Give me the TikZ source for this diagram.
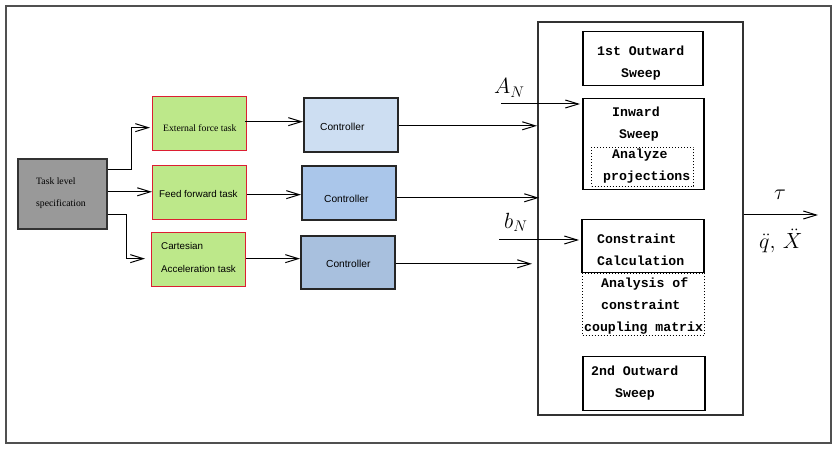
\RequirePackage{fix-cm}
\documentclass[tikz,border=0pt]{standalone}
\usepackage{fontspec}
\setmainfont{Liberation Serif}
\setsansfont{Liberation Sans}
\setmonofont{Liberation Mono}
\usetikzlibrary{arrows.meta}
\definecolor{frame}{RGB}{80,80,80}
\definecolor{specgray}{RGB}{153,153,153}
\definecolor{taskgreen}{RGB}{189,232,138}
\definecolor{taskred}{RGB}{220,30,50}
\definecolor{ctrlA}{RGB}{205,222,242}
\definecolor{ctrlB}{RGB}{170,198,234}
\definecolor{ctrlC}{RGB}{168,192,222}
\definecolor{bigborder}{RGB}{50,50,50}
\begin{document}
\begin{tikzpicture}[x=1pt,y=-1pt,
  box/.style={draw, rectangle, anchor=north west, inner sep=0pt, line width=1.6pt},
  specbox/.style={box, fill=specgray, draw=black!80},
  taskbox/.style={box, fill=taskgreen, draw=taskred, line width=1.3pt},
  ctrlbox/.style={box, draw=black!85},
  sweepbox/.style={box, draw=black, line width=1.5pt},
  dotbox/.style={draw, dotted, line width=1pt, anchor=north west, inner sep=0pt, rectangle},
  txt/.style={anchor=base west, inner sep=0pt},
  serif/.style={txt, font=\fontsize{9.7}{11}\selectfont\rmfamily},
  sans/.style={txt, font=\fontsize{9.8}{11}\sffamily},
  ctxt/.style={txt, font=\fontsize{10.2}{12}\sffamily},
  mono/.style={txt, font=\fontsize{13.2}{15}\selectfont\ttfamily\bfseries},
  mth/.style={txt, font=\fontsize{22}{25}\selectfont},
  arr/.style={line width=1pt, -{Straight Barb[length=13pt,width=8pt,line width=1pt]}}
]
\useasboundingbox (0,0) rectangle (839,454);
\draw[frame, line width=2pt] (6,6) rectangle (831,443);

% left column
\node[specbox, minimum width=89, minimum height=70] (spec) at (17,158) {};
\node[serif] (s1) at (36,185) {Task level};
\node[serif] (s2) at (36,207) {specification};

% task boxes
\node[taskbox, minimum width=94, minimum height=54] (ext) at (152,96) {};
\node[serif] (t1) at (163,131.5) {External force task};
\node[taskbox, minimum width=94, minimum height=54] (ff) at (152,165) {};
\node[sans] (t2) at (159,198) {Feed forward task};
\node[taskbox, minimum width=94, minimum height=54] (cart) at (151,232) {};
\node[sans] (t3) at (161,250) {Cartesian};
\node[sans] (t4) at (161,273) {Acceleration task};

% controllers
\node[ctrlbox, fill=ctrlA, minimum width=94, minimum height=54] (c1) at (303,97) {};
\node[ctrlbox, fill=ctrlB, minimum width=94, minimum height=54] (c2) at (301,165) {};
\node[ctrlbox, fill=ctrlC, minimum width=94, minimum height=53] (c3) at (300,235) {};
\node[ctxt] (k1) at (320,131) {Controller};
\node[ctxt] (k2) at (324,203) {Controller};
\node[ctxt] (k3) at (326,268) {Controller};

% big box
\node[box, draw=bigborder, line width=1.6pt, minimum width=205, minimum height=393] (big) at (537,21) {};
\node[sweepbox, minimum width=120, minimum height=54] (os1) at (582,31) {};
\node[mono] (m1) at (597,56) {1st Outward};
\node[mono] (m2) at (621,77.5) {Sweep};
\node[sweepbox, minimum width=121, minimum height=91] (inw) at (582,98) {};
\node[mono] (m3) at (612,117) {Inward};
\node[mono] (m4) at (619,138.5) {Sweep};
\node[dotbox, minimum width=102, minimum height=39] (ap) at (591,147) {};
\node[mono] (m5) at (612,159) {Analyze};
\node[mono] (m6) at (603,180.5) {projections};
\node[sweepbox, minimum width=122, minimum height=53] (cc) at (581,219) {};
\node[mono] (m7) at (597,244) {Constraint};
\node[mono] (m8) at (597,266) {Calculation};
\node[dotbox, minimum width=122, minimum height=62] (acm) at (582,273) {};
\node[mono] (m9) at (601,287.5) {Analysis of};
\node[mono] (m10) at (601,310) {constraint};
\node[mono] (m11) at (584,332) {coupling matrix};
\node[sweepbox, minimum width=122, minimum height=54] (os2) at (582,356) {};
\node[mono] (m12) at (591,376) {2nd Outward};
\node[mono] (m13) at (615,398) {Sweep};

% math labels
\node[mth] (la) at (494,94) {$A_N$};
\node[mth] (lb) at (504,228.5) {$b_N$};
\node[mth] (lt) at (774,200) {$\tau$};
\node[mth] (lq) at (759,249) {$\ddot{q},\,\ddot{X}$};

\coordinate (an) at (501,104);
\coordinate (bn) at (499,240);
\coordinate (out) at (818,215);

% connectors
\draw[arr] ([yshift=-12pt]spec.north east) -- ++(24,0) |- ([xshift=-2pt,yshift=-4pt]ext.west);
\draw[arr] ([yshift=2pt]spec.east) -- ([yshift=2pt]spec.east -| ff.west);
\draw[arr] ([yshift=-57pt]spec.north east) -- ++(19,0) |- ([xshift=-6pt,yshift=1pt]cart.west);

\draw[arr] ([xshift=-2pt,yshift=2pt]ext.east) -- ([yshift=2pt]ext.east -| c1.west);
\draw[arr] ([yshift=-2pt]ff.east) -- ([yshift=-2pt]ff.east -| c2.west);
\draw[arr] ([yshift=1pt]cart.east) -- ([yshift=1pt]cart.east -| c3.west);

\draw[arr] ([yshift=-1pt]c1.east) -- ([yshift=-1pt]c1.east -| big.west);
\draw[arr] ([yshift=-5pt]c2.east) -- ([xshift=2pt,yshift=-5pt]c2.east -| big.west);
\draw[arr] ([yshift=-1.5pt]c3.east) -- ([xshift=-5pt,yshift=-1.5pt]c3.east -| big.west);

\draw[arr] (an) -- ([xshift=-2pt]an -| inw.west);
\draw[arr] (bn) -- ([xshift=-2pt]bn -| cc.west);
\draw[arr] (big.east |- out) -- (out);
\end{tikzpicture}
\end{document}
